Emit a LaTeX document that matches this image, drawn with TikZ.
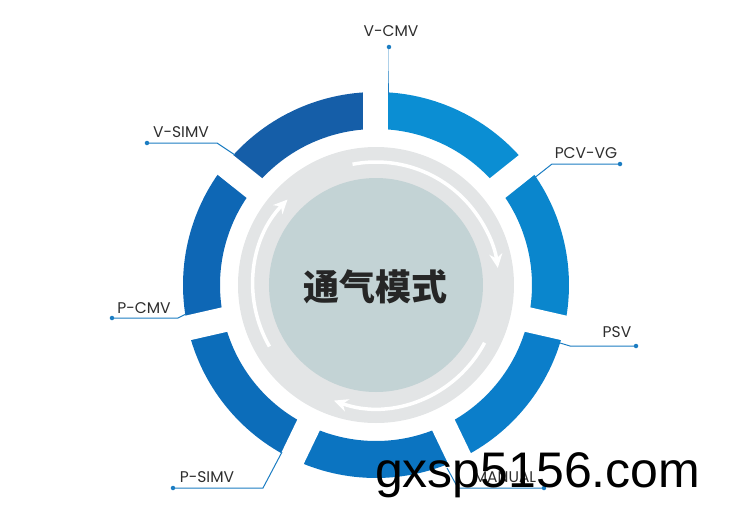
\documentclass[tikz,border=0pt]{standalone}
\usepackage{fontspec}
\setmainfont{Poppins}
\newfontfamily\cjk{Noto Sans CJK SC}
\newfontfamily\wmfont{Liberation Sans}
\usepackage{tikz}
\usetikzlibrary{arrows.meta}
\definecolor{segA}{HTML}{0B8ED3}
\definecolor{segB}{HTML}{0A86CD}
\definecolor{segC}{HTML}{0B7ECA}
\definecolor{segD}{HTML}{0B74C1}
\definecolor{segE}{HTML}{0C6DBA}
\definecolor{segF}{HTML}{0E67B5}
\definecolor{segG}{HTML}{155EA8}
\definecolor{leadc}{HTML}{1C7DC2}
\definecolor{band}{HTML}{E3E5E6}
\definecolor{core}{HTML}{C3D3D5}
\definecolor{txt}{HTML}{2E2E2E}

\begin{document}
\begin{tikzpicture}[x=1pt,y=1pt,
  lbl/.style={text=txt,font=\fontsize{15.5}{15.5}\selectfont,inner sep=0pt},
  lead/.style={draw=leadc,line width=1pt},
  dot/.style={circle,fill=leadc,inner sep=0pt,minimum size=4.5pt},
  spin/.style={white,line width=3.5pt,-{Stealth[length=14pt,width=13pt]}}]
\useasboundingbox (-376,-235) rectangle (374,285);
% ring
\foreach \i/\c in {0/segA,1/segB,2/segC,3/segD,4/segE,5/segF,6/segG}{
  \pgfmathsetmacro\a{90-51.4286*\i}
  \pgfmathsetmacro\b{\a-51.4286}
  \fill[\c] (\a:193) arc[start angle=\a,end angle=\b,radius=193]
    -- (\b:156) arc[start angle=\b,end angle=\a,radius=156] -- cycle;
}
\foreach \i in {0,...,6}
  \draw[white,line width=25pt] ({90-51.4286*\i}:150) -- ({90-51.4286*\i}:200);
% centre
\fill[band] (0,0) circle (138);
\fill[core] (0,0) circle (107);
\draw[spin] (101:123) arc[start angle=101,end angle=8,radius=123];
\draw[spin] (-28:123) arc[start angle=-28,end angle=-110,radius=123];
\draw[spin] (210:123) arc[start angle=210,end angle=136,radius=123];
\node[font=\cjk\bfseries\fontsize{36}{36}\selectfont,text=black!85] (title) at (0,-2) {通气模式};
% labels
\foreach \n/\t/\lx/\ly/\dx/\dy/\bx/\by/\ex/\ey in {
  vcmv/V-CMV/15/254/13/238/13/214/13/190,
  pcvvg/PCV-VG/210/132/244/121/176/121/157/106,
  psv/PSV/241/-47/260/-61/194/-61/184/-58,
  manual/MANUAL/129/-192/168/-203/82/-203/71/-183,
  psimv/P-SIMV/-169/-192/-203/-203/-113/-203/-94/-167,
  pcmv/P-CMV/-232/-23/-264/-33/-198/-33/-190/-29,
  vsimv/V-SIMV/-195/153/-229/142/-159/142/-141/130}{
  \node[lbl] (\n) at (\lx,\ly) {\t};
  \node[dot] (\n-dot) at (\dx,\dy) {};
  \coordinate (\n-bend) at (\bx,\by);
  \coordinate (\n-end) at (\ex,\ey);
  \draw[lead] (\n-dot.center) -- (\n-bend) -- (\n-end);
}
\node[font=\wmfont\fontsize{50}{50}\selectfont,anchor=base west,inner sep=0pt] (mark) at (-1,-202) {gxsp5156.com};
\end{tikzpicture}
\end{document}
